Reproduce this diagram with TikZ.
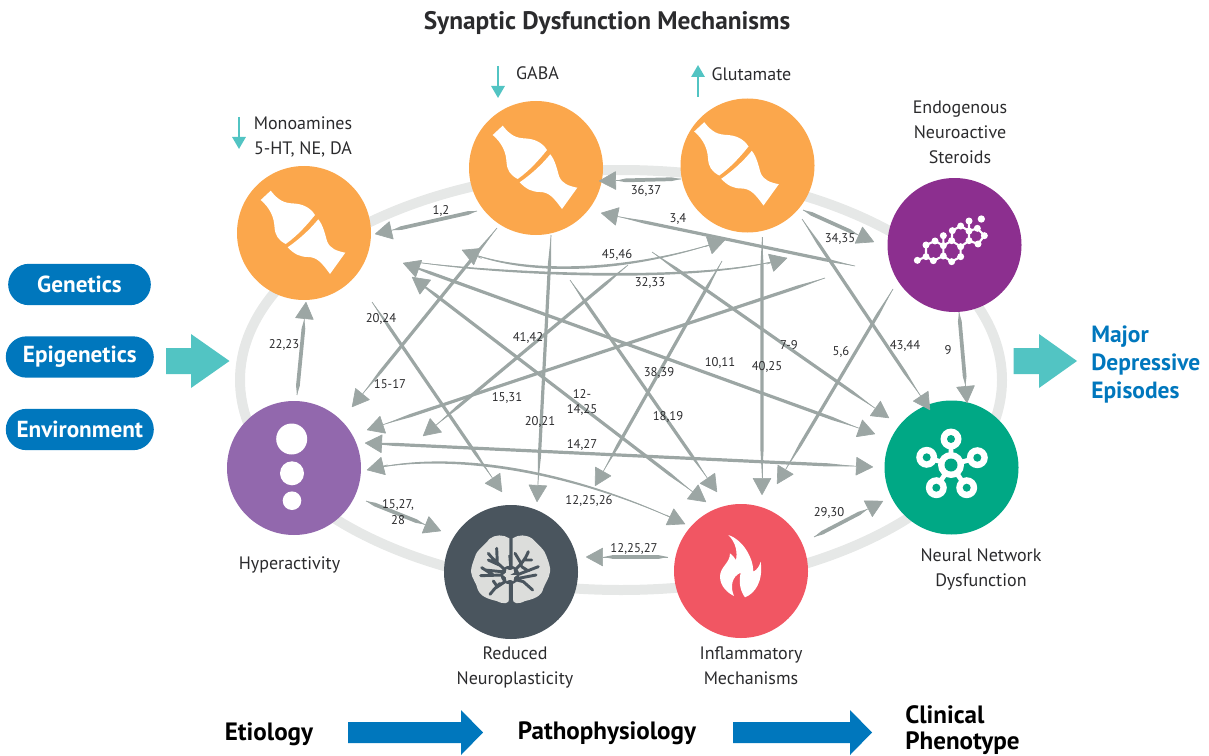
\documentclass[tikz,border=0pt]{standalone}
\usepackage{fontspec}
\setmainfont{PT Sans}
\usetikzlibrary{arrows.meta,calc}
\definecolor{lg}{HTML}{9CA6A4}
\definecolor{ringc}{HTML}{E6E8E7}
\definecolor{orangec}{HTML}{FBA74C}
\definecolor{steroidc}{HTML}{8C2F8F}
\definecolor{hyperc}{HTML}{9268AD}
\definecolor{brainc}{HTML}{4A555E}
\definecolor{flamec}{HTML}{F15663}
\definecolor{neuralc}{HTML}{00A885}
\definecolor{bluec}{HTML}{0077BD}
\definecolor{tealc}{HTML}{52C4C3}
\definecolor{txt}{HTML}{2B2B2D}
\definecolor{lobe}{HTML}{DCDDDB}
\tikzset{
 hub/.style={circle,inner sep=0pt,minimum size=100.5pt},
 lab/.style={text=txt,font=\fontsize{13.5}{18.75}\selectfont,inner sep=0pt,align=center,yshift=-.5pt},
 elab/.style={text=txt,font=\fontsize{9.5}{11.5}\selectfont,inner sep=0pt,align=center,yshift=-.8pt},
 pill/.style={fill=bluec,rounded corners=15.5pt,text=white,inner sep=0pt,minimum height=31pt,font=\bfseries\fontsize{17.4}{20}\selectfont},
 bot/.style={text=black,font=\bfseries\fontsize{18.8}{20}\selectfont,inner sep=0pt,align=left,yshift=-1.5pt},
 arr/.style={lg,line width=.5pt,-{Triangle[length=13pt,width=14pt,round]}},
 arrb/.style={lg,line width=.5pt,{Triangle[length=13pt,width=14pt,round]}-{Triangle[length=13pt,width=14pt,round]}},
 thin/.style={lg,line width=.5pt},
 tipo/.style={lg,line width=.5pt,-{Triangle[length=13pt,width=14pt,round]}},
 small/.style={tealc,line width=1.5pt,-{Triangle[length=9pt,width=10pt]}},
}
% tapered body of a long straight connector
\newcommand\taper[3][1.2pt]{\fill[lg] let \p1=($(#3)-(#2)$),\n1={atan2(\y1,\x1)+90},\n2={\n1+180} in (#2) -- ($(#2)!22pt!(#3)+(\n1:#1)$) -- ($(#3)!34pt!(#2)+(\n1:#1)$) -- ($(#3)!13pt!(#2)$) -- ($(#3)!34pt!(#2)+(\n2:#1)$) -- ($(#2)!22pt!(#3)+(\n2:#1)$) -- cycle;}
% tapered body of a short straight connector
\newcommand\staper[3][1.4pt]{\fill[lg] let \p1=($(#3)-(#2)$),\n1={atan2(\y1,\x1)+90},\n2={\n1+180} in (#2) -- ($(#2)!7pt!(#3)+(\n1:#1)$) -- ($(#3)!20pt!(#2)+(\n1:#1)$) -- ($(#3)!13pt!(#2)$) -- ($(#3)!20pt!(#2)+(\n2:#1)$) -- ($(#2)!7pt!(#3)+(\n2:#1)$) -- cycle;}
% tapered body of a curved connector
\newcommand\ctaper[4]{\fill[lg] (#1) .. controls ($(#2)+(0,1.8)$) and ($(#3)+(0,1.8)$) .. (#4) .. controls ($(#3)+(0,-1.8)$) and ($(#2)+(0,-1.8)$) .. (#1) -- cycle;}
\newcommand\synapse[2]{\begin{scope}[shift={(#1,#2)}]
 \fill[white] (-43.3,-33) -- (-33.3,-42.3) .. controls (-25,-32) and (-20,-30) .. (-10,-29.5) .. controls (-2,-29) and (6,-26) .. (11,-18) .. controls (2.5,-7.5) and (-7,3) .. (-18.3,11) .. controls (-26,7) and (-29,2) .. (-29.5,-6) .. controls (-30,-16) and (-34,-25) .. cycle;
 \fill[white] (14.3,-13.7) .. controls (5.5,-3) and (-5,6.5) .. (-16.3,14.3) .. controls (-10,21) and (-4,24) .. (4,24) .. controls (13,24) and (18,30) .. (26,41) -- (41.3,19.7) .. controls (33,18) and (26,16) .. (23,8) .. controls (21,1) and (19,-8) .. cycle;
\end{scope}}
\begin{document}
\begin{tikzpicture}[x=.75pt,y=-.75pt]
\useasboundingbox (0,0) rectangle (1209,756);
% ring
\draw[ringc,line width=7.5pt] (621,380) ellipse [x radius=381,y radius=210];
% hubs
\node[hub,fill=orangec] (mono) at (304,233) {};
\node[hub,fill=orangec] (gaba) at (536,168) {};
\node[hub,fill=orangec] (glut) at (747.5,165.5) {};
\node[hub,fill=steroidc] (ster) at (954.5,245) {};
\node[hub,fill=hyperc] (hyper) at (294,468) {};
\node[hub,fill=brainc] (brain) at (511,572) {};
\node[hub,fill=flamec] (flame) at (741,571) {};
\node[hub,fill=neuralc] (neural) at (951.5,467.5) {};
\synapse{304}{233}
\synapse{536}{168}
\synapse{737.5}{164.5}
% hyperactivity dots
\fill[white] (291.7,439) circle[radius=15.5] (292,473.3) circle[radius=12] (292,500.7) circle[radius=9.3];
% steroid icon
\begin{scope}[shift={(900,200)},scale=1/3]
 \foreach \n/\p in {a/{52,181},b/{78,170},c/{100,182},d/{130,168},e/{155,185},f/{182,170},g/{182,140},h/{155,122},i/{130,137},j/{105,123},k/{78,135},l/{130,107},m/{157,92},n/{182,78},o/{207,93},p/{207,63},q/{207,122},r/{234,132},s/{253,107},t/{232,85},u/{244,57}}
  \coordinate (\n) at (\p);
 \draw[white,line width=1.6pt] (a)--(b)--(c)--(d)--(e)--(f)--(g)--(h)--(i)--(d) (i)--(j)--(k)--(b) (i)--(l) (h)--(m)--(n)--(o)--(p) (o)--(q)--(g) (q)--(r)--(s)--(t)--(o);
 \foreach \n in {a,b,c,d,e,f,g,h,i,j,k,l,m,n,o,p,q,r,s,t} \fill[white] (\n) circle[radius=10.5];
 \fill[white] (u) circle[radius=11];
\end{scope}
% neural icon
\begin{scope}[shift={(951,465)}]
 \draw[white,line width=3.6pt] (0,0)--(0,-26) (0,0)--(26.3,-7.3) (0,0)--(15.7,22.7) (0,0)--(-14.7,22.7) (0,0)--(-24.3,-7.7);
 \foreach \p in {(0,-26),(26.3,-7.3),(15.7,22.7),(-14.7,22.7),(-24.3,-7.7)} {
  \fill[white] \p circle[radius=10.5];
  \fill[neuralc] \p circle[radius=4];}
 \fill[white] (0,0) circle[radius=13];
 \fill[neuralc] (0,0) circle[radius=6.5];
\end{scope}
% flame icon
\begin{scope}[shift={(700,525)},scale=1/3]
 \fill[white] (85,30) .. controls (110,55) and (112,85) .. (108,105) .. controls (103,98) and (98,90) .. (90,85) .. controls (90,115) and (60,125) .. (60,155) .. controls (60,185) and (85,205) .. (102,213) .. controls (90,185) and (95,155) .. (122,143) .. controls (115,175) and (122,200) .. (135,217) .. controls (165,205) and (190,170) .. (182,110) .. controls (178,125) and (170,135) .. (160,140) .. controls (160,100) and (130,45) .. (85,30) -- cycle;
\end{scope}
% brain icon
\begin{scope}[shift={(460,525)},scale=1/3]
 \fill[lobe] (148,40) .. controls (130,28) and (105,28) .. (88,42) .. controls (75,60) and (50,75) .. (45,95) .. controls (40,110) and (33,125) .. (33,140) .. controls (35,160) and (50,175) .. (52,190) .. controls (60,215) and (85,222) .. (110,228) .. controls (130,238) and (148,238) .. (148,220) -- cycle;
 \fill[lobe] (158,40) .. controls (175,28) and (200,28) .. (218,42) .. controls (235,60) and (255,75) .. (260,95) .. controls (265,110) and (272,125) .. (270,140) .. controls (268,160) and (255,175) .. (250,190) .. controls (245,215) and (220,222) .. (195,228) .. controls (175,238) and (158,238) .. (158,220) -- cycle;
 \draw[brainc,line width=2.2pt,line cap=round] (135,135) .. controls (115,115) and (100,105) .. (85,85) (118,120) -- (85,105) (112,115) -- (110,70) (128,150) -- (62,152) (100,150) -- (65,128) (135,170) -- (105,190) (105,190) -- (90,208) (112,185) -- (100,168) (125,140) -- (75,135) (165,135) .. controls (185,115) and (195,105) .. (205,80) (185,118) -- (165,85) (195,105) -- (215,105) (170,150) -- (235,125) (205,138) -- (185,125) (170,165) -- (190,170) (190,170) -- (218,195) (175,160) -- (228,150) (120,175) -- (100,195);
 \draw[brainc,line width=3pt] (152,150) -- (153,235);
 \draw[brainc,line width=1.1pt] (147,90) -- (150,125);
 \fill[brainc] (150,150) circle[radius=28];
 \fill[lobe] (150,150) \foreach \i in {0,...,11} {-- ({150+(mod(\i,2)==0?21:14)*cos(\i*30)},{150+(mod(\i,2)==0?21:14)*sin(\i*30)})} -- cycle;
\end{scope}
% connector end points
\foreach \n/\p in {
 a1/{477,211},b1/{375,234},
 a2/{681,179},b2/{599,181},
 a3/{855,266},b3/{601,213},
 a4/{803,210},b4/{874,242},
 a5/{802,219},b5/{930,410},
 a6/{652,252},b6/{889,418},
 a7/{403,263},b7/{875,434},
 a8/{412,277},b8/{706,502},
 a9/{570,280},b9/{717,492},
 a10/{372,302},b10/{502,492},
 a11/{497,228},b11/{352,407},
 a12/{628,265},b12/{423,436},
 a13/{825,278},b13/{367,430},
 a14/{551,235},b14/{537,502},
 a15/{722,261},b15/{595,486},
 a16/{762,237},b16/{762,495},
 a17/{893,289},b17/{777,484},
 a18/{365,443},b18/{873,467},
 a19/{297,395},b19/{306,302},
 a20/{366,501},b20/{441,531},
 a21/{668,557},b21/{586,557},
 a22/{814,537},b22/{883,501},
 a23/{959,312},b23/{967,403},
 c1/{462,250},d1/{725,240},k1a/{520,275},k1b/{620,275},
 c2/{415,262},d2/{787,258},k2a/{500,274},k2b/{700,284},
 c3/{367,470},d3/{685,524},k3a/{440,452},k3b/{560,465}}
 {\coordinate (\n) at (\p);}
% connectors
\draw[arr] (a1) -- (b1); \staper{a1}{b1}
\draw[arr] (a2) -- (b2); \staper{a2}{b2}
\draw[arr] (a3) -- (b3); \taper{a3}{b3}
\draw[arr] (a4) -- (b4); \staper{a4}{b4}
\draw[arr] (a5) -- (b5); \taper{a5}{b5}
\draw[arr] (a6) -- (b6); \taper{a6}{b6}
\draw[arrb] (a7) -- (b7); \taper{a7}{b7}
\draw[arrb] (a8) -- (b8); \taper{a8}{b8}
\draw[arr] (a9) -- (b9); \taper{a9}{b9}
\draw[arr] (a10) -- (b10); \taper{a10}{b10}
\draw[arr] (a11) -- (b11); \taper{a11}{b11}
\draw[arr] (a12) -- (b12); \taper{a12}{b12}
\draw[arr] (a13) -- (b13); \taper{a13}{b13}
\draw[arr] (a14) -- (b14); \taper{a14}{b14}
\draw[arr] (a15) -- (b15); \taper{a15}{b15}
\draw[arr] (a16) -- (b16); \taper{a16}{b16}
\draw[arr] (a17) -- (b17); \taper{a17}{b17}
\draw[arrb] (a18) -- (b18); \taper{a18}{b18}
\draw[arr] (a19) -- (b19); \staper{a19}{b19}
\draw[arr] (a20) -- (b20); \staper{a20}{b20}
\draw[arr] (a21) -- (b21); \staper{a21}{b21}
\draw[arr] (a22) -- (b22); \staper{a22}{b22}
\draw[arr] (a23) -- (b23); \staper{a23}{b23}
% curved connectors: body, then a short end piece that carries each tip
\draw[thin] (c1) .. controls (k1a) and (k1b) .. (d1); \ctaper{c1}{k1a}{k1b}{d1}
\draw[tipo] ($(c1)!16pt!(k1a)$) -- (c1);
\draw[tipo] ($(d1)!16pt!(k1b)$) -- (d1);
\draw[thin] (c2) .. controls (k2a) and (k2b) .. (d2); \ctaper{c2}{k2a}{k2b}{d2}
\draw[tipo] ($(d2)!16pt!(k2b)$) -- (d2);
\draw[thin] (c3) .. controls (k3a) and (k3b) .. (d3); \ctaper{c3}{k3a}{k3b}{d3}
\draw[tipo] ($(c3)!16pt!(k3a)$) -- (c3);
\draw[tipo] ($(d3)!16pt!(k3b)$) -- (d3);
% small teal arrows
\coordinate (s1a) at (239,117); \coordinate (s1b) at (239,149);
\coordinate (s2a) at (498,66); \coordinate (s2b) at (498,98);
\coordinate (s3a) at (698,97); \coordinate (s3b) at (698,65);
\draw[small] (s1a) -- (s1b);
\draw[small] (s2a) -- (s2b);
\draw[small] (s3a) -- (s3b);
% big block arrows
\fill[tealc] (166,348) -- (191,348) -- (191,334) -- (229.5,361) -- (191,388) -- (191,374) -- (166,374) -- cycle;
\fill[tealc] (1013.5,348) -- (1039,348) -- (1039,334) -- (1077,361) -- (1039,388) -- (1039,374) -- (1013.5,374) -- cycle;
\fill[bluec] (348,722) -- (461,722) -- (461,710) -- (483,732.5) -- (461,755) -- (461,743) -- (348,743) -- cycle;
\fill[bluec] (733,722) -- (850,722) -- (850,710) -- (872,732.5) -- (850,755) -- (850,743) -- (733,743) -- cycle;
% texts
\node[text=txt,font=\bfseries\fontsize{19}{22}\selectfont,inner sep=0pt,yshift=-1.5pt] (title) at (607,21) {Synaptic Dysfunction Mechanisms};
\node[lab] (tgaba) at (537.5,73) {GABA};
\node[lab] (tglut) at (751.5,74) {Glutamate};
\node[lab] (tmono) at (303,136.5) {Monoamines\\5-HT, NE, DA};
\node[lab] (tster) at (960,132) {Endogenous\\Neuroactive\\Steroids};
\node[lab] (thyper) at (289.5,564.5) {Hyperactivity};
\node[lab] (tbrain) at (515,666.5) {Reduced\\Neuroplasticity};
\node[lab] (tflame) at (751,665.5) {Inflammatory\\Mechanisms};
\node[lab] (tneural) at (981,568.5) {Neural Network\\Dysfunction};
\node[text=bluec,font=\bfseries\fontsize{17.6}{21}\selectfont,inner sep=0pt,align=left,anchor=west,yshift=-1.5pt] (tmajor) at (1091,363) {Major\\Depressive\\Episodes};
\node[pill,minimum width=107pt] (genetics) at (79.5,284.5) {Genetics};
\node[pill,minimum width=111pt] (epi) at (79.8,357) {Epigenetics};
\node[pill,minimum width=111pt] (env) at (79.8,429.5) {Environment};
\node[bot] (etio) at (269,732) {Etiology};
\node[bot] (patho) at (607,731) {Pathophysiology};
\node[bot,anchor=west] (clin) at (905,728) {Clinical\\Phenotype};
% connector labels
\node[elab] (e1) at (441,210) {1,2};
\node[elab] (e2) at (646,190) {36,37};
\node[elab] (e3) at (678,218) {3,4};
\node[elab] (e4) at (840,238) {34,35};
\node[elab] (e5) at (617,254) {45,46};
\node[elab] (e6) at (650,282) {32,33};
\node[elab] (e7) at (789,344) {7-9};
\node[elab] (e8) at (841,351) {5,6};
\node[elab] (e9) at (905,345) {43,44};
\node[elab] (e10) at (948,349) {9};
\node[elab] (e11) at (381,318) {20,24};
\node[elab] (e12) at (528,337) {41,42};
\node[elab] (e13) at (390,383) {15-17};
\node[elab] (e14) at (507,397) {15,31};
\node[elab] (e15) at (540,421) {20,21};
\node[elab] (e16) at (582,401.5) {12-\\14,25};
\node[elab] (e17) at (659,372) {38,39};
\node[elab] (e18) at (720,362) {10,11};
\node[elab] (e19) at (767,366) {40,25};
\node[elab] (e20) at (668,416) {18,19};
\node[elab] (e21) at (582,444) {14,27};
\node[elab] (e22) at (589,500) {12,25,26};
\node[elab] (e23) at (284,344) {22,23};
\node[elab] (e24) at (398,511) {15,27,\\28};
\node[elab] (e25) at (634,548) {12,25,27};
\node[elab] (e26) at (829,512) {29,30};
\end{tikzpicture}
\end{document}
